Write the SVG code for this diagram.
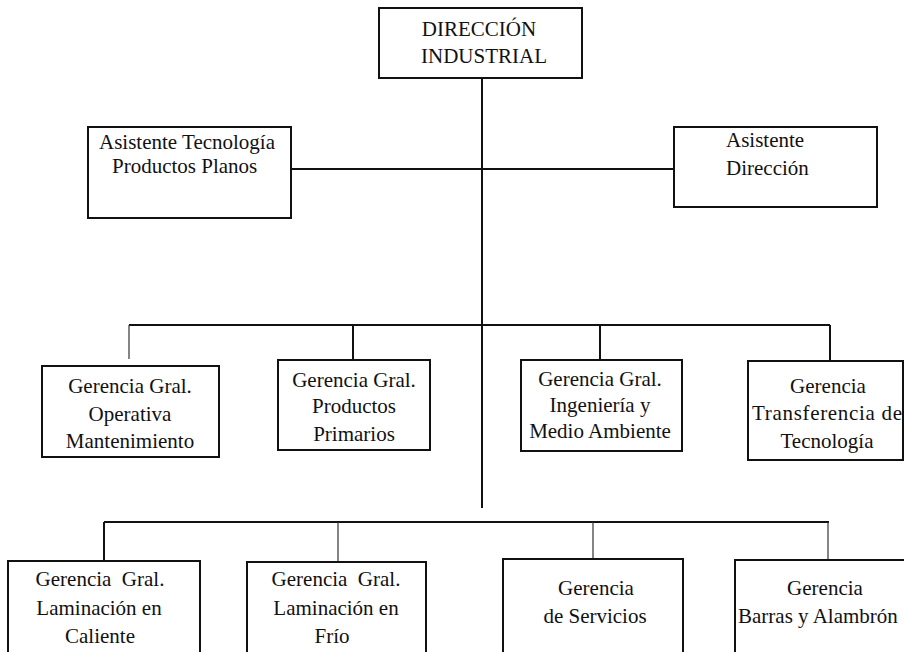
<svg xmlns="http://www.w3.org/2000/svg" width="904" height="652" viewBox="0 0 904 652">
<style>
.box{fill:#fff;stroke:#111;stroke-width:2}
.t{font-family:"Liberation Serif","Times New Roman",serif;font-size:21px;fill:#111;text-anchor:middle}
.ts{font-family:"Liberation Serif","Times New Roman",serif;font-size:21px;fill:#111}
.c{stroke:#111;stroke-width:2;fill:none}
.thin{stroke:#333;stroke-width:1.2;fill:none}
</style>
<rect width="904" height="652" fill="#fff"/>
<g id="connectors">
<line class="c" x1="482" y1="78" x2="482" y2="508"/>
<line class="c" x1="291" y1="169" x2="674" y2="169"/>
<line class="c" x1="129" y1="325" x2="830" y2="325"/>
<line class="thin" x1="129" y1="325" x2="129" y2="359"/>
<line class="c" x1="353" y1="325" x2="353" y2="360"/>
<line class="c" x1="600" y1="325" x2="600" y2="360"/>
<line class="c" x1="830" y1="325" x2="830" y2="361"/>
<line class="c" x1="104" y1="522" x2="829" y2="522"/>
<line class="c" x1="104" y1="522" x2="104" y2="562"/>
<line class="thin" x1="338" y1="522" x2="338" y2="562"/>
<line class="thin" x1="593" y1="522" x2="593" y2="560"/>
<line class="thin" x1="828" y1="522" x2="828" y2="560"/>
</g>
<g id="direccion">
<rect class="box" x="379" y="8" width="203" height="70"/>
<text class="t" x="479" y="36">DIRECCIÓN</text>
<text class="t" x="484" y="63">INDUSTRIAL</text>
</g>
<g id="asist-tec">
<rect class="box" x="88" y="127" width="203" height="91"/>
<text class="ts" x="99" y="149">Asistente Tecnología</text>
<text class="ts" x="112" y="173">Productos Planos</text>
</g>
<g id="asist-dir">
<rect class="box" x="674" y="127" width="203" height="80"/>
<text class="ts" x="726" y="147">Asistente</text>
<text class="ts" x="726" y="175">Dirección</text>
</g>
<g id="g-operativa">
<rect class="box" x="42" y="366" width="177" height="91"/>
<text class="t" x="130" y="393">Gerencia Gral.</text>
<text class="t" x="130" y="421">Operativa</text>
<text class="t" x="130" y="448">Mantenimiento</text>
</g>
<g id="g-primarios">
<rect class="box" x="278" y="360" width="152" height="90"/>
<text class="t" x="354" y="387">Gerencia Gral.</text>
<text class="t" x="354" y="413">Productos</text>
<text class="t" x="354" y="441">Primarios</text>
</g>
<g id="g-ingenieria">
<rect class="box" x="521" y="360" width="161" height="91"/>
<text class="t" x="600" y="386">Gerencia Gral.</text>
<text class="t" x="600" y="412">Ingeniería y</text>
<text class="t" x="600" y="438">Medio Ambiente</text>
</g>
<g id="g-transferencia">
<rect class="box" x="748" y="361" width="155" height="99"/>
<text class="t" x="828" y="393">Gerencia</text>
<text class="t" x="827" y="420" textLength="150" lengthAdjust="spacing">Transferencia de</text>
<text class="t" x="827" y="448">Tecnología</text>
</g>
<g id="g-caliente">
<rect class="box" x="8" y="561" width="192" height="110"/>
<text class="t" x="100" y="586" style="white-space:pre">Gerencia  Gral.</text>
<text class="t" x="99" y="615">Laminación en</text>
<text class="t" x="100" y="643">Caliente</text>
</g>
<g id="g-frio">
<rect class="box" x="247" y="562" width="179" height="110"/>
<text class="t" x="336" y="586" style="white-space:pre">Gerencia  Gral.</text>
<text class="t" x="336" y="615">Laminación en</text>
<text class="t" x="332" y="643">Frío</text>
</g>
<g id="g-servicios">
<rect class="box" x="503" y="559" width="180" height="110"/>
<text class="t" x="596" y="595">Gerencia</text>
<text class="t" x="595" y="623">de Servicios</text>
</g>
<g id="g-barras">
<rect class="box" x="735" y="560" width="180" height="110"/>
<text class="t" x="825" y="595">Gerencia</text>
<text class="ts" x="738" y="623">Barras y Alambrón</text>
</g>
</svg>
